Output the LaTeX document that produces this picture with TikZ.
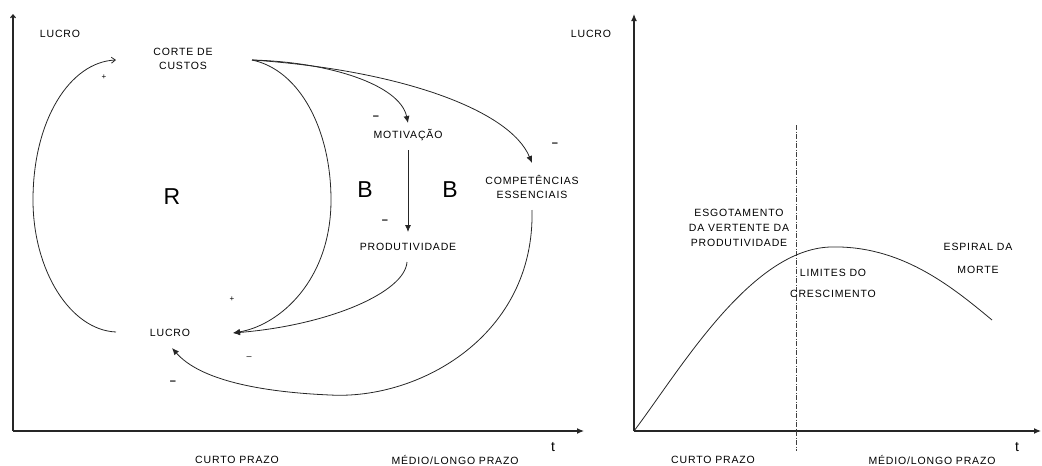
\documentclass[tikz,border=0pt]{standalone}
\usepackage{fontspec}
\setmainfont{Liberation Sans}
\newfontfamily\spaced[LetterSpace=8]{Liberation Sans}
\usetikzlibrary{arrows.meta,calc}
\begin{document}
\begin{tikzpicture}[x=1pt,y=-1pt,
  lbl/.style={font=\spaced\fontsize{10.5}{14}\selectfont,inner sep=0pt,outer sep=0pt,align=center},
  loopname/.style={font=\fontsize{23}{23}\selectfont,inner sep=0pt},
  minus/.style={font=\bfseries\fontsize{11}{11}\selectfont,inner sep=0pt},
  thinminus/.style={font=\fontsize{9}{9}\selectfont,inner sep=0pt},
  plus/.style={font=\fontsize{8}{8}\selectfont,inner sep=0pt},
  tvar/.style={font=\fontsize{14}{14}\selectfont,inner sep=0pt},
  link/.style={draw=black!85,line width=0.8pt},
  axis/.style={draw=black!85,line width=1.2pt},
  tip/.style={-{Latex[length=7pt,width=6pt]}},
  barb/.style={-{Straight Barb[length=4pt,width=6pt]}}
]
\useasboundingbox (0,0) rectangle (1042,466);

% ---------- left panel: causal loops ----------
\coordinate (oL) at (13,431);
\coordinate (yL) at (13,14);
\coordinate (xL) at (584,431);
\draw[axis,-{Straight Barb[length=3pt,width=5pt]}] (oL) -- (yL);
\draw[axis,-{Latex[length=7pt,width=6pt]}] (oL) -- (xL);
\node[tvar] (tL) at (553,447) {t};
\node[lbl] (lucroAxL) at (60,34) {LUCRO};
\node[lbl] (curtoL) at (237,460) {CURTO PRAZO};
\node[lbl] (medioL) at (455,460) {MÉDIO/LONGO PRAZO};

\node[lbl] (corte) at (183,59) {CORTE DE\\CUSTOS};
\node[lbl] (lucro) at (170,333) {LUCRO};
\node[lbl] (motiv) at (408,135) {MOTIVAÇÃO};
\node[lbl] (prod) at (408,247) {PRODUTIVIDADE};
\node[lbl] (comp) at (532,187) {COMPETÊNCIAS\\ESSENCIAIS};

\node[loopname] (loopR) at (172,197) {R};
\node[loopname] (loopB1) at (365,190) {B};
\node[loopname] (loopB2) at (450,190) {B};

% reinforcing loop: profit back to cost cutting
\draw[link,barb] ($(lucro)+(-54,-1)$)
  .. controls (70,330) and (33,270) .. (33,200)
  .. controls (33,120) and (70,62) .. ($(corte)+(-67,1)$);
% cost cutting lowers costs and raises profit
\draw[link,tip] ($(corte)+(69,1)$)
  .. controls (300,70) and (331,130) .. (331,200)
  .. controls (331,280) and (280,325) .. ($(lucro)+(63,0)$);
% cost cutting to motivation
\draw[link,tip] ($(corte)+(69,1)$)
  .. controls (330,62) and (400,85) .. ($(motiv)+(0,-12)$);
% cost cutting to core competences
\draw[link,tip] ($(corte)+(69,1)$)
  .. controls (400,70) and (510,110) .. ($(comp)+(0,-24)$);
% motivation to productivity
\draw[link,tip] ($(motiv)+(0,15)$) -- ($(prod)+(0,-15)$);
% productivity to profit
\draw[link,tip] ($(prod)+(-1,15)$)
  .. controls (405,292) and (330,325) .. ($(lucro)+(63,0)$);
% core competences to profit
\draw[link,tip] ($(comp)+(0,23)$)
  .. controls (535,335) and (420,400) .. (330,395)
  .. controls (260,392) and (200,380) .. ($(lucro)+(2,15)$);

% polarities
\node[plus] (pR) at (104,77) {+};
\node[plus] (pL) at (232,299) {+};
\node[minus] (mMot) at (376,118) {–};
\node[minus] (mProd) at (385,222) {–};
\node[minus] (mComp) at (555,145) {–};
\node[minus] (mLuc) at (173,383) {–};
\node[thinminus] (mLuc2) at (249,358) {–};

% ---------- right panel: profit over time ----------
\coordinate (oR) at (634,431);
\coordinate (yR) at (634,14);
\coordinate (xR) at (1041,431);
\draw[axis,-{Latex[length=7pt,width=6pt]}] (oR) -- (yR);
\draw[axis,-{Latex[length=7pt,width=6pt]}] (oR) -- (xR);
\node[tvar] (tR) at (1017,447) {t};
\node[lbl] (lucroAxR) at (591,34) {LUCRO};
\node[lbl] (curtoR) at (713,460) {CURTO PRAZO};
\node[lbl] (medioR) at (932,460) {MÉDIO/LONGO PRAZO};

\coordinate (limTop) at (796,125);
\coordinate (limBot) at (796,451);
\draw[draw=black!75,line width=0.7pt,dash pattern=on 5pt off 1.5pt on 1pt off 1.5pt] (limTop) -- (limBot);

\coordinate (curveEnd) at (992,320);
\draw[link] (oR)
  .. controls (680,370) and (750,250) .. (830,247)
  .. controls (900,245) and (950,285) .. (curveEnd);

\node[lbl,font=\spaced\fontsize{10.5}{15}\selectfont] (esgot) at (739,228)
  {ESGOTAMENTO\\DA VERTENTE DA\\PRODUTIVIDADE};
\node[lbl,font=\spaced\fontsize{10.5}{21}\selectfont] (limites) at (833,283.5)
  {LIMITES DO\\CRESCIMENTO};
\node[lbl,font=\spaced\fontsize{10.5}{23}\selectfont] (espiral) at (978,258.5)
  {ESPIRAL DA\\MORTE};
\end{tikzpicture}
\end{document}
